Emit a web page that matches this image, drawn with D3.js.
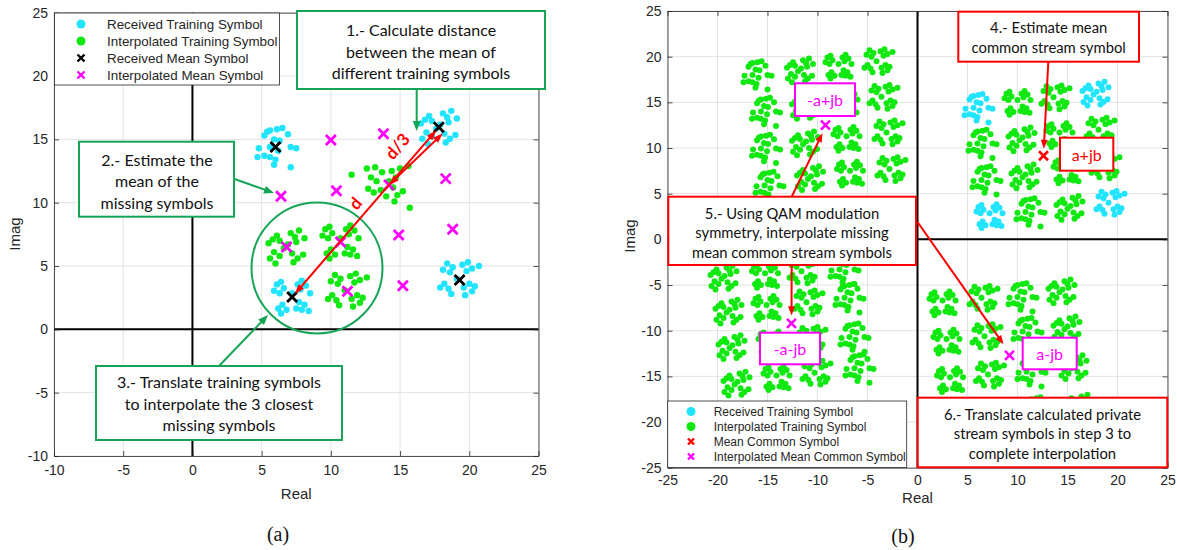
<!DOCTYPE html>
<html><head><meta charset="utf-8">
<script src="https://cdn.jsdelivr.net/npm/d3@7"></script>
<style>body{margin:0;background:#fff}svg{display:block}</style>
</head><body>
<svg id="c" width="1177" height="550"></svg>
<script>
// ---------------- DATA ----------------
// Panel (a) tick values
const ticksA = [-10,-5,0,5,10,15,20,25];
// Panel (b) tick values
const ticksB = [-25,-20,-15,-10,-5,0,5,10,15,20,25];

// Received mean symbols (black x) = centres of received (cyan) clusters
const meanReceived = [[6.0,14.4],[17.8,15.95],[7.2,2.55],[19.3,3.9]];
// Interpolated mean symbols (magenta x), first quadrant
const meanInterpolated = [[10.0,14.95],[13.8,15.45],[6.4,10.5],[10.4,10.95],[14.2,11.4],[18.3,11.9],
  [6.8,6.5],[10.7,6.9],[14.9,7.45],[18.8,7.9],[11.2,3.0],[15.2,3.45]];
// In panel (a), only these interpolated means already carry training symbols (green)
const greenInA = [6,7,10,4];

// Scatter shapes of one symbol cloud (offsets read from the clouds)
const shape0 = [[-0.6,1.2],[-0.4,1.3],[0.1,1.4],[0.5,1.5],[-0.8,0.9],[0.9,1.0],[-0.1,0.6],[0.3,0.5],[-1.2,-0.1],[-1.3,-0.8],[-0.8,-0.7],[-0.4,-0.8],[0.0,-1.0],[-0.1,-1.4],[1.1,-1.6],[1.1,0.0],[1.5,-0.1],[0.2,-0.3],[-0.4,0.0]];
const shape1 = [[-1.0,0.6],[-0.7,0.9],[-0.5,0.5],[-1.3,0.3],[0.3,1.1],[0.6,0.8],[0.9,1.3],[0.7,0.4],[1.3,0.7],[-0.9,-0.4],[-1.2,-0.9],[-0.5,-0.7],[-0.8,-1.3],[0.4,-0.5],[0.8,-0.9],[0.5,-1.2],[1.2,-0.6],[0.1,0.2],[-0.2,-0.1]];
const shape2 = [[-1.1,1.0],[-0.8,1.2],[-0.6,0.7],[-1.3,0.5],[-0.9,0.3],[0.4,1.0],[0.7,1.3],[1.0,0.9],[0.6,0.6],[-0.7,-0.6],[-1.0,-0.9],[-0.4,-1.0],[-0.8,-1.3],[0.5,-0.4],[0.9,-0.6],[0.7,-1.0],[1.2,-1.1],[0.3,-0.9],[1.3,0.3],[0.0,0.3]];
const shape3 = [[-0.9,1.3],[-0.5,1.0],[-1.2,0.8],[-0.7,0.6],[0.2,1.2],[0.6,1.4],[0.9,0.9],[0.5,0.7],[1.4,1.1],[-1.1,-0.3],[-0.8,-0.7],[-1.4,-0.6],[-0.6,-1.1],[0.3,-0.6],[0.7,-0.3],[0.9,-0.9],[0.4,-1.2],[1.1,-0.5],[-0.2,0.1]];
const shape4 = [[-1.6,1.3],[-1.0,1.4],[-0.5,1.0],[-1.3,0.6],[-0.9,0.3],[0.2,1.1],[0.5,0.6],[0.8,1.3],[1.4,1.5],[-1.5,-0.3],[-1.1,-0.6],[-0.6,-0.4],[-0.2,-0.9],[0.3,-0.2],[0.6,-0.8],[1.0,-0.5],[0.4,-1.3],[1.5,-1.8],[-2.7,0.8],[0.0,0.3]];

// Panel (b): cloud centres of the other three quadrants (interpolated)
const quad2 = [[-16.1,18.0],[-11.75,18.5],[-7.9,18.9],[-3.9,19.4],[-15.25,14.0],[-11.25,14.5],[-7.3,15.0],[-3.4,15.5],
  [-15.25,9.95],[-11.25,10.5],[-7.1,11.0],[-2.9,11.6],[-14.9,5.9],[-10.75,6.7],[-6.75,7.2],[-2.6,7.6]];
const quad3 = [[-19.4,-4.2],[-15.25,-4.0],[-11.4,-3.6],[-7.4,-3.3],[-18.9,-7.9],[-15.1,-7.5],[-10.9,-7.0],[-6.9,-6.4],
  [-18.6,-11.8],[-14.6,-11.4],[-10.6,-11.0],[-6.4,-10.7],[-18.1,-15.8],[-14.1,-15.2],[-10.1,-14.7],[-5.9,-14.1]];
const quad4 = [[2.5,-7.0],[6.6,-6.5],[10.4,-6.3],[14.4,-5.7],[2.9,-11.2],[6.9,-10.7],[10.9,-10.1],[14.9,-9.75],
  [3.25,-15.4],[7.25,-14.9],[11.3,-14.5],[15.6,-14.0],[3.7,-19.7],[7.7,-19.2],[11.8,-18.8],[16.1,-18.3]];
// Mean common stream symbol (red x) and interpolated ones (magenta x)
const meanCommon = [[12.6,9.15]];
const meanCommonInterp = [[-9.2,12.5],[-12.6,-9.2],[9.2,-12.7]];
const quadLabels = ["a+jb","-a+jb","-a-jb","a-jb"];

const legendA = ["Received Training Symbol","Interpolated Training Symbol","Received Mean Symbol","Interpolated Mean Symbol"];
const legendB = ["Received Training Symbol","Interpolated Training Symbol","Mean Common Symbol","Interpolated Mean Common Symbol"];

// ---------------- STYLE ----------------
const CYAN = "#22e4ff", GREEN = "#11e811", MAG = "#ff00ff", RED = "#ff0000", ANG = "#16a556", AX = "#262626";
const shapes = [shape0, shape1, shape2, shape3, shape4];
const FONT = "'Liberation Sans', Arial, sans-serif";
const BOXFONT = "Lato, 'Open Sans', sans-serif";

const svg = d3.select("#c");

const xA = d3.scaleLinear([-10,25],[54,538.5]);
const yA = d3.scaleLinear([-10,25],[456,12.7]);
const xB = d3.scaleLinear([-25,25],[667.5,1167.5]);
const yB = d3.scaleLinear([-25,25],[467.7,11]);

function cloud(center, shapeIdx, kind){
  return shapes[shapeIdx].map(o => ({x:center[0]+o[0], y:center[1]+o[1], kind}));
}

function drawFrame(g, x, y, ticks){
  const [x0,x1] = x.range(), [y0,y1] = y.range();
  g.append("g").selectAll("line").data(ticks).join("line")
    .attr("x1", d=>x(d)).attr("x2", d=>x(d)).attr("y1", y0).attr("y2", y1)
    .attr("stroke","#e3e3e3").attr("stroke-width",1);
  g.append("g").selectAll("line").data(ticks).join("line")
    .attr("y1", d=>y(d)).attr("y2", d=>y(d)).attr("x1", x0).attr("x2", x1)
    .attr("stroke","#e3e3e3").attr("stroke-width",1);
  // zero lines
  g.append("line").attr("x1",x(0)).attr("x2",x(0)).attr("y1",y0).attr("y2",y1).attr("stroke","#000").attr("stroke-width",2);
  g.append("line").attr("y1",y(0)).attr("y2",y(0)).attr("x1",x0).attr("x2",x1).attr("stroke","#000").attr("stroke-width",2);
}

function drawAxes(g, x, y, ticks, padX, padY){
  const [x0,x1] = x.range(), [y0,y1] = y.range();
  const fmt = d => String(d);
  const bx = g.append("g").attr("transform",`translate(0,${y0})`)
    .call(d3.axisBottom(x).tickValues(ticks).tickSize(-5).tickSizeOuter(0).tickPadding(padX).tickFormat(fmt));
  const tx = g.append("g").attr("transform",`translate(0,${y1})`)
    .call(d3.axisTop(x).tickValues(ticks).tickSize(-5).tickSizeOuter(0).tickFormat(""));
  const ly = g.append("g").attr("transform",`translate(${x0},0)`)
    .call(d3.axisLeft(y).tickValues(ticks).tickSize(-5).tickSizeOuter(0).tickPadding(padY).tickFormat(fmt));
  const ry = g.append("g").attr("transform",`translate(${x1},0)`)
    .call(d3.axisRight(y).tickValues(ticks).tickSize(-5).tickSizeOuter(0).tickFormat(""));
  [bx,tx,ly,ry].forEach(a => {
    a.selectAll("path,line").attr("stroke",AX).attr("stroke-width",0.8);
    a.selectAll("text").attr("fill",AX).style("font-family",FONT).style("font-size","14px");
  });
}

function drawPoints(g, pts, x, y, r){
  g.append("g").selectAll("circle").data(pts).join("circle")
    .attr("cx", d=>x(d.x)).attr("cy", d=>y(d.y)).attr("r", r)
    .attr("fill", d=> d.kind===0 ? CYAN : GREEN);
}

function drawX(g, pts, x, y, h, color, sw){
  g.append("g").selectAll("path").data(pts).join("path")
    .attr("d", d=>{const cx=x(d[0]), cy=y(d[1]); return `M${cx-h},${cy-h}L${cx+h},${cy+h}M${cx-h},${cy+h}L${cx+h},${cy-h}`;})
    .attr("stroke", color).attr("stroke-width", sw).attr("fill","none");
}

function arrow(g, x1,y1,x2,y2,color,w,hl,hw,both){
  const a = Math.atan2(y2-y1,x2-x1);
  const head = (tx,ty,an)=>{const bx=tx-hl*Math.cos(an), by=ty-hl*Math.sin(an);
    const px=-Math.sin(an)*hw/2, py=Math.cos(an)*hw/2;
    return `M${tx},${ty}L${bx+px},${by+py}L${bx-px},${by-py}Z`;};
  const sx = both ? x1+hl*0.7*Math.cos(a) : x1, sy = both ? y1+hl*0.7*Math.sin(a) : y1;
  const ex = x2-hl*0.7*Math.cos(a), ey = y2-hl*0.7*Math.sin(a);
  g.append("line").attr("x1",sx).attr("y1",sy).attr("x2",ex).attr("y2",ey).attr("stroke",color).attr("stroke-width",w);
  g.append("path").attr("d",head(x2,y2,a)).attr("fill",color);
  if(both) g.append("path").attr("d",head(x1,y1,a+Math.PI)).attr("fill",color);
}

function textBox(g, bx, by, bw, bh, color, lines, cx, ys, size, tcolor){
  g.append("rect").attr("x",bx).attr("y",by).attr("width",bw).attr("height",bh)
    .attr("fill","#fff").attr("stroke",color).attr("stroke-width",2);
  const t = g.append("text").attr("text-anchor","middle").style("font-family",BOXFONT).style("font-size",size+"px")
    .attr("fill", tcolor||"#111");
  lines.forEach((l,i)=> t.append("tspan").attr("x",cx).attr("y",ys[i]).attr("dominant-baseline","central").text(l));
}

function legend(g, bx, by, bw, bh, items, mx, tx, ys, size, r, xh){
  g.append("rect").attr("x",bx).attr("y",by).attr("width",bw).attr("height",bh)
    .attr("fill","#fff").attr("stroke",AX).attr("stroke-width",0.8);
  const cols = [CYAN, GREEN, items.colors[2], MAG];
  items.labels.forEach((lab,i)=>{
    if(i<2) g.append("circle").attr("cx",mx).attr("cy",ys[i]).attr("r",r).attr("fill",cols[i]);
    else g.append("path").attr("d",`M${mx-xh},${ys[i]-xh}L${mx+xh},${ys[i]+xh}M${mx-xh},${ys[i]+xh}L${mx+xh},${ys[i]-xh}`)
      .attr("stroke",cols[i]).attr("stroke-width",2.4);
    g.append("text").attr("x",tx).attr("y",ys[i]).attr("dominant-baseline","central")
      .style("font-family",FONT).style("font-size",size+"px").attr("fill",AX).text(lab);
  });
}

// ================= PANEL (a) =================
const gA = svg.append("g");
drawFrame(gA, xA, yA, ticksA);
let ptsA = [];
meanReceived.forEach((c,i)=> ptsA = ptsA.concat(cloud(c, i%4, 0)));
greenInA.forEach((idx,i)=> ptsA = ptsA.concat(cloud(meanInterpolated[idx], idx===4 ? 4 : (i+1)%4, 1)));
drawPoints(gA, ptsA, xA, yA, 3.2);
drawX(gA, meanInterpolated, xA, yA, 5, MAG, 2.8);
drawX(gA, meanReceived, xA, yA, 5, "#000", 2.8);
drawAxes(gA, xA, yA, ticksA, 9, 6);

// green circle around the 3 closest missing symbols
gA.append("circle").attr("cx", xA(9.0)).attr("cy", yA(4.85)).attr("r", xA(4.73)-xA(0))
  .attr("fill","none").attr("stroke",ANG).attr("stroke-width",2);

// d and d/3 arrows
{
  const p0 = [xA(meanReceived[2][0]), yA(meanReceived[2][1])];
  const p1 = [xA(meanReceived[1][0]), yA(meanReceived[1][1])];
  const a = Math.atan2(p1[1]-p0[1], p1[0]-p0[0]);
  const sh = 4;
  arrow(gA, p0[0]+sh*Math.cos(a), p0[1]+sh*Math.sin(a), p1[0]-sh*Math.cos(a), p1[1]-sh*Math.sin(a), RED, 2, 10, 7, true);
  const q0 = [xA(meanInterpolated[4][0]), yA(meanInterpolated[4][1])];
  arrow(gA, q0[0], q0[1], p1[0]+4, p1[1]+6, RED, 2, 10, 7, true);
  const deg = a*180/Math.PI;
  gA.append("text").attr("transform",`translate(355,203) rotate(${deg})`).attr("text-anchor","middle")
    .attr("dominant-baseline","central").style("font-family",BOXFONT).style("font-size","17px").style("font-weight","bold")
    .attr("fill",RED).text("d");
  gA.append("text").attr("transform",`translate(397,146) rotate(${deg})`).attr("text-anchor","middle")
    .attr("dominant-baseline","central").style("font-family",BOXFONT).style("font-size","17px").style("font-weight","bold")
    .attr("fill",RED).text("d/3");
}

legend(gA, 54.5, 13, 225, 72, {labels:legendA, colors:[CYAN,GREEN,"#000",MAG]}, 81, 107, [24,41,58,75], 13.4, 4.5, 3.5);

// annotation boxes panel (a)
arrow(gA, 416.7, 89, 416.7, 131, ANG, 2, 10, 8, false);
textBox(gA, 297, 11, 248, 78, ANG, ["1.- Calculate distance","between the mean of","different training symbols"], 421, [29,51,72.5], 16);
arrow(gA, 234.5, 179, 274, 193, ANG, 2, 10, 8, false);
textBox(gA, 79, 141.7, 155, 75, ANG, ["2.- Estimate the","mean of the","missing symbols"], 157, [159,180.5,202], 16);
arrow(gA, 219, 366, 268, 315, ANG, 2, 10, 8, false);
textBox(gA, 96, 366, 246, 74, ANG, ["3.- Translate training symbols","to interpolate the 3 closest","missing symbols"], 219, [381.5,403,424.5], 16);

// axis labels
gA.append("text").attr("x", (xA.range()[0]+xA.range()[1])/2).attr("y",493).attr("text-anchor","middle")
  .attr("dominant-baseline","central").style("font-family",FONT).style("font-size","15px").attr("fill",AX).text("Real");
gA.append("text").attr("transform",`translate(14,234) rotate(-90)`).attr("text-anchor","middle")
  .attr("dominant-baseline","central").style("font-family",FONT).style("font-size","15px").attr("fill",AX).text("Imag");
gA.append("text").attr("x",278).attr("y",534).attr("text-anchor","middle").attr("dominant-baseline","central")
  .style("font-family","'Liberation Serif', 'Times New Roman', serif").style("font-size","20px").attr("fill","#111").text("(a)");

// ================= PANEL (b) =================
const gB = svg.append("g");
drawFrame(gB, xB, yB, ticksB);
let ptsB = [];
meanReceived.forEach((c,i)=> ptsB = ptsB.concat(cloud(c, i%4, 0)));
meanInterpolated.forEach((c,i)=> ptsB = ptsB.concat(cloud(c, (i+2)%4, 1)));
[quad2, quad3, quad4].forEach((q,k)=> q.forEach((c,i)=> ptsB = ptsB.concat(cloud(c, (i+k)%4, 1))));
drawPoints(gB, ptsB, xB, yB, 3.0);
drawX(gB, meanCommon, xB, yB, 4.5, RED, 2.6);
drawX(gB, meanCommonInterp, xB, yB, 4.5, MAG, 2.6);
drawAxes(gB, xB, yB, ticksB, 7.5, 6);

legend(gB, 667.7, 401, 239, 66.5, {labels:legendB, colors:[CYAN,GREEN,RED,MAG]}, 691, 713.7, [411.5,426.5,441.5,456.5], 12, 4.5, 3);

// arrows panel (b)
{
  const mc = [xB(meanCommon[0][0]), yB(meanCommon[0][1])];
  arrow(gB, 1048.3, 61.7, mc[0]+0.3, mc[1]-7, RED, 2, 9, 7, false);
  const m2 = [xB(meanCommonInterp[0][0]), yB(meanCommonInterp[0][1])];
  arrow(gB, 791.7, 196.7, m2[0]-3, m2[1]+8, RED, 2, 9, 7, false);
  const m3 = [xB(meanCommonInterp[1][0]), yB(meanCommonInterp[1][1])];
  arrow(gB, 791.7, 265, m3[0], m3[1]-8, RED, 2, 9, 7, false);
  const m4 = [xB(meanCommonInterp[2][0]), yB(meanCommonInterp[2][1])];
  arrow(gB, 917.5, 222, m4[0]-6, m4[1]-11, RED, 2, 9, 7, false);
}

textBox(gB, 958.3, 11.7, 180.7, 50, RED, ["4.- Estimate mean","common stream symbol"], 1048.7, [27,46.5], 14.8);
textBox(gB, 668.3, 196.7, 247.7, 68.3, RED, ["5.- Using QAM modulation","symmetry, interpolate missing","mean common stream symbols"], 792, [212.7,232.2,251.7], 14.8);
textBox(gB, 917.7, 397.7, 249.6, 69.6, RED, ["6.- Translate calculated private","stream symbols in step 3 to","complete interpolation"], 1042.5, [414,433.3,452.7], 14.8);
textBox(gB, 1060, 137.7, 53.3, 33, RED, [quadLabels[0]], 1086.7, [154.2], 16, RED);
textBox(gB, 795, 83.3, 60, 32.7, MAG, [quadLabels[1]], 825, [99.7], 16, MAG);
textBox(gB, 760, 332.7, 60, 31.6, MAG, [quadLabels[2]], 790, [348.5], 16, MAG);
textBox(gB, 1022.7, 337.7, 54, 31.6, MAG, [quadLabels[3]], 1049.7, [353.5], 16, MAG);

gB.append("text").attr("x", (xB.range()[0]+xB.range()[1])/2).attr("y",497).attr("text-anchor","middle")
  .attr("dominant-baseline","central").style("font-family",FONT).style("font-size","15px").attr("fill",AX).text("Real");
gB.append("text").attr("transform",`translate(629,236) rotate(-90)`).attr("text-anchor","middle")
  .attr("dominant-baseline","central").style("font-family",FONT).style("font-size","15px").attr("fill",AX).text("Imag");
gB.append("text").attr("x",903).attr("y",536).attr("text-anchor","middle").attr("dominant-baseline","central")
  .style("font-family","'Liberation Serif', 'Times New Roman', serif").style("font-size","20px").attr("fill","#111").text("(b)");
</script>
</body></html>
